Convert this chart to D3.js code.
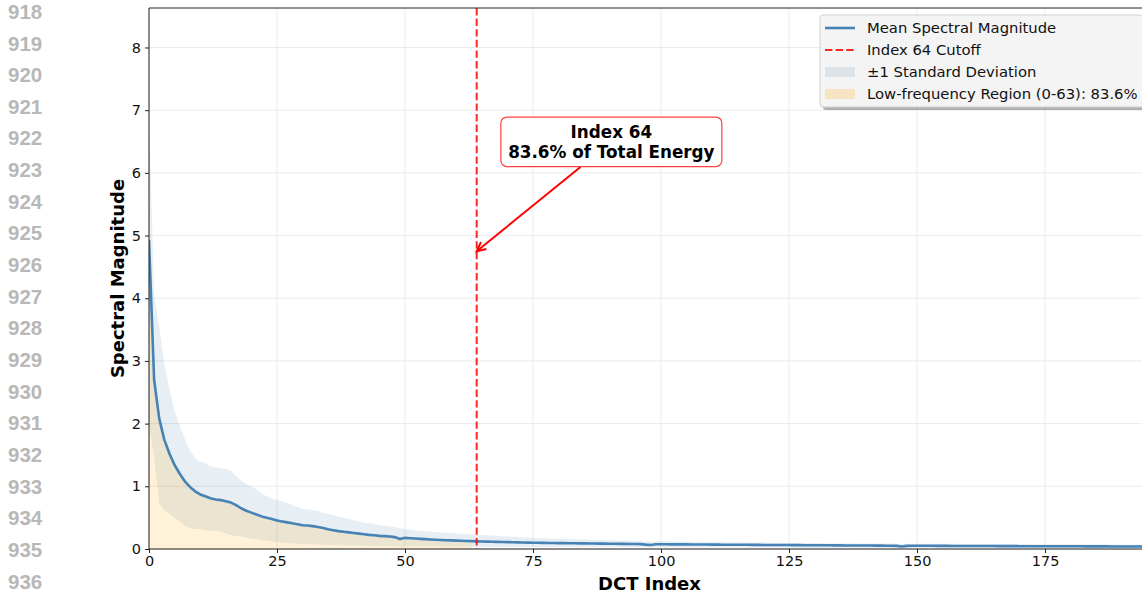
<!DOCTYPE html>
<html><head><meta charset="utf-8">
<script src="https://cdn.jsdelivr.net/npm/d3@7"></script>
<style>
html,body{margin:0;padding:0;background:#fff;}
svg{display:block;font-family:"DejaVu Sans",sans-serif;}
</style></head>
<body>
<svg id="chart" width="1142" height="598"></svg>
<script>
// ---- data ----
const lineNumbers = [918,919,920,921,922,923,924,925,926,927,928,929,930,931,932,933,934,935,936];
const xTicks = [0,25,50,75,100,125,150,175];
const yTicks = [0,1,2,3,4,5,6,7,8];
const meanMag = [
4.93,2.70,2.08,1.74,1.52,1.34,1.20,1.08,0.99,0.92,
0.87,0.84,0.81,0.79,0.78,0.76,0.74,0.70,0.65,0.61,
0.58,0.55,0.52,0.50,0.48,0.455,0.44,0.425,0.41,0.395,
0.38,0.375,0.365,0.35,0.335,0.315,0.30,0.285,0.275,0.265,
0.255,0.245,0.235,0.225,0.22,0.21,0.205,0.20,0.19,0.16,
0.178,0.172,0.167,0.162,0.157,0.152,0.148,0.144,0.140,0.137,
0.134,0.131,0.128,0.125,0.122,0.120,0.118,0.116,0.114,0.112,
0.110,0.108,0.106,0.104,0.102,0.100,0.099,0.098,0.096,0.095,
0.094,0.093,0.092,0.091,0.090,0.089,0.088,0.087,0.086,0.085,
0.084,0.083,0.082,0.081,0.080,0.079,0.078,0.070,0.065,0.076,
0.075,0.075,0.074,0.074,0.073,0.073,0.072,0.072,0.071,0.071,
0.070,0.070,0.069,0.069,0.068,0.068,0.067,0.067,0.066,0.066,
0.065,0.065,0.064,0.064,0.063,0.063,0.062,0.062,0.061,0.061,
0.060,0.060,0.059,0.059,0.058,0.058,0.057,0.057,0.056,0.056,
0.055,0.055,0.054,0.054,0.053,0.053,0.050,0.040,0.050,0.052,
0.052,0.051,0.051,0.051,0.050,0.050,0.050,0.049,0.049,0.049,
0.048,0.048,0.048,0.047,0.047,0.047,0.046,0.046,0.046,0.046,
0.045,0.045,0.045,0.045,0.044,0.044,0.044,0.044,0.043,0.043,
0.043,0.043,0.043,0.042,0.042,0.042,0.042,0.042,0.041,0.041,
0.041,0.041,0.041,0.040,0.040,0.040];
const stdUpper = [
7.00,4.05,3.55,2.95,2.55,2.20,1.97,1.76,1.57,1.45,
1.39,1.37,1.32,1.30,1.29,1.28,1.25,1.17,1.09,1.04,
1.00,0.95,0.88,0.84,0.81,0.78,0.76,0.73,0.70,0.67,
0.64,0.63,0.62,0.61,0.58,0.56,0.54,0.52,0.50,0.48,
0.46,0.44,0.42,0.41,0.40,0.38,0.37,0.36,0.35,0.33,
0.32,0.31,0.30,0.29,0.285,0.28,0.272,0.265,0.26,0.255,
0.25,0.245,0.24,0.235,0.23,0.225,0.22,0.215,0.21,0.205,
0.20,0.196,0.192,0.188,0.184,0.18,0.177,0.174,0.171,0.168,
0.165,0.162,0.159,0.156,0.153,0.15,0.148,0.146,0.144,0.142,
0.14,0.138,0.136,0.134,0.132,0.13,0.128,0.12,0.115,0.124,
0.122,0.121,0.120,0.119,0.118,0.117,0.116,0.115,0.114,0.113,
0.112,0.111,0.110,0.109,0.108,0.107,0.106,0.105,0.104,0.103,
0.102,0.101,0.100,0.099,0.099,0.098,0.097,0.097,0.096,0.095,
0.095,0.094,0.093,0.093,0.092,0.091,0.091,0.090,0.090,0.089,
0.089,0.088,0.088,0.087,0.087,0.086,0.082,0.070,0.082,0.085,
0.085,0.084,0.084,0.083,0.083,0.083,0.082,0.082,0.082,0.081,
0.081,0.081,0.080,0.080,0.080,0.079,0.079,0.079,0.079,0.078,
0.078,0.078,0.078,0.077,0.077,0.077,0.077,0.076,0.076,0.076,
0.076,0.075,0.075,0.075,0.075,0.074,0.074,0.074,0.074,0.073,
0.073,0.073,0.073,0.072,0.072,0.072];
const stdLower = [
2.00,1.45,0.72,0.62,0.56,0.50,0.44,0.37,0.33,0.32,
0.32,0.30,0.29,0.29,0.28,0.25,0.22,0.21,0.20,0.18,
0.16,0.15,0.14,0.13,0.12,0.11,0.10,0.095,0.09,0.085,
0.08,0.077,0.074,0.071,0.068,0.065,0.063,0.061,0.059,0.057,
0.055,0.053,0.051,0.049,0.047,0.046,0.045,0.044,0.043,0.035,
0.041,0.040,0.040,0.039,0.039,0.038,0.038,0.037,0.037,0.036,
0.036,0.035,0.035,0.034,0.034,0.034,0.033,0.033,0.033,0.032,
0.032,0.032,0.031,0.031,0.031,0.030,0.030,0.030,0.030,0.029,
0.029,0.029,0.029,0.028,0.028,0.028,0.028,0.028,0.027,0.027,
0.027,0.027,0.027,0.026,0.026,0.026,0.026,0.022,0.020,0.026,
0.026,0.026,0.026,0.025,0.025,0.025,0.025,0.025,0.024,0.024,
0.024,0.024,0.024,0.024,0.023,0.023,0.023,0.023,0.023,0.023,
0.022,0.022,0.022,0.022,0.022,0.022,0.022,0.021,0.021,0.021,
0.021,0.021,0.021,0.021,0.021,0.020,0.020,0.020,0.020,0.020,
0.020,0.020,0.020,0.020,0.020,0.020,0.018,0.014,0.018,0.019,
0.019,0.019,0.019,0.019,0.019,0.019,0.019,0.019,0.019,0.019,
0.019,0.019,0.019,0.019,0.018,0.018,0.018,0.018,0.018,0.018,
0.018,0.018,0.018,0.018,0.018,0.018,0.018,0.018,0.018,0.018,
0.018,0.018,0.018,0.018,0.018,0.018,0.018,0.018,0.018,0.018,
0.018,0.018,0.018,0.018,0.018,0.018];
const cutoffIndex = 64;
const lowRegionEnd = 63;
const annotationLines = ["Index 64","83.6% of Total Energy"];
const annotationTarget = [64, 4.75];
const annotationText = [90.3, 6.5];
const legendLabels = ["Mean Spectral Magnitude","Index 64 Cutoff","\u00b11 Standard Deviation","Low-frequency Region (0-63): 83.6%"];
const xLabel = "DCT Index";
const yLabel = "Spectral Magnitude";

// ---- drawing ----
const svg = d3.select("#chart");
const L = 149, R = 1150, T = 8, B = 549;
const x = d3.scaleLinear().domain([0, 195.5]).range([L, R]);
const y = d3.scaleLinear().domain([0, 8.63]).range([B, T]);

// line numbers at the left margin
svg.append("g").selectAll("text").data(lineNumbers).join("text")
  .attr("x", 8).attr("y", (d,i) => 11.5 + i*31.65).attr("dy", "0.36em")
  .attr("font-family", "'Liberation Sans', Arial, sans-serif")
  .attr("font-weight", "bold").attr("font-size", 20.5).attr("fill", "#b8b8b8")
  .text(d => d);

svg.append("defs").append("clipPath").attr("id","clip")
  .append("rect").attr("x", L).attr("y", T).attr("width", R-L).attr("height", B-T);

// grid
const grid = svg.append("g");
grid.selectAll(".gx").data(xTicks).join("line")
  .attr("x1", d=>x(d)).attr("x2", d=>x(d)).attr("y1", T).attr("y2", B)
  .attr("stroke", "#e6e6e6").attr("stroke-width", 0.8);
grid.selectAll(".gy").data(yTicks).join("line")
  .attr("x1", L).attr("x2", R).attr("y1", d=>y(d)).attr("y2", d=>y(d))
  .attr("stroke", "#e6e6e6").attr("stroke-width", 0.8);

const plot = svg.append("g").attr("clip-path", "url(#clip)");
const idx = d3.range(meanMag.length);

// std band
plot.append("path").datum(idx)
  .attr("d", d3.area().x(i=>x(i)).y0(i=>y(stdLower[i])).y1(i=>y(stdUpper[i])))
  .attr("fill", "steelblue").attr("fill-opacity", 0.13);

// low-frequency region
plot.append("path").datum(idx.filter(i => i <= lowRegionEnd))
  .attr("d", d3.area().x(i=>x(i)).y0(y(0)).y1(i=>y(meanMag[i])))
  .attr("fill", "orange").attr("fill-opacity", 0.15);

// mean line
plot.append("path").datum(idx)
  .attr("d", d3.line().x(i=>x(i)).y(i=>y(meanMag[i])))
  .attr("fill", "none").attr("stroke", "#4682b4").attr("stroke-width", 2.6)
  .attr("stroke-linejoin", "round");

// cutoff line
plot.append("line")
  .attr("x1", x(cutoffIndex)).attr("x2", x(cutoffIndex)).attr("y1", T).attr("y2", B)
  .attr("stroke", "red").attr("stroke-opacity", 0.85).attr("stroke-width", 2)
  .attr("stroke-dasharray", "7.4 3.2");

// spines
svg.append("line").attr("x1", L).attr("x2", L).attr("y1", T).attr("y2", B).attr("stroke", "#222").attr("stroke-width", 1);
svg.append("line").attr("x1", L).attr("x2", R).attr("y1", T).attr("y2", T).attr("stroke", "#222").attr("stroke-width", 1);
svg.append("line").attr("x1", L).attr("x2", R).attr("y1", B).attr("y2", B).attr("stroke", "#222").attr("stroke-width", 1);

// axes
const xAxis = svg.append("g").attr("transform", `translate(0,${B})`)
  .call(d3.axisBottom(x).tickValues(xTicks).tickSize(4).tickPadding(3));
const yAxis = svg.append("g").attr("transform", `translate(${L},0)`)
  .call(d3.axisLeft(y).tickValues(yTicks).tickSize(4).tickPadding(4));
[xAxis, yAxis].forEach(a => {
  a.select(".domain").remove();
  a.selectAll("line").attr("stroke", "#222");
  a.selectAll("text").attr("font-family", "'DejaVu Sans', sans-serif").attr("font-size", 14.5).attr("fill", "#111");
});

// axis labels
svg.append("text").attr("x", 649.5).attr("y", 589.5).attr("text-anchor", "middle")
  .attr("font-weight", "bold").attr("font-size", 18).text(xLabel);
svg.append("text").attr("transform", `translate(124,278.5) rotate(-90)`).attr("text-anchor", "middle")
  .attr("font-weight", "bold").attr("font-size", 18).text(yLabel);

// annotation arrow
const ax0 = x(annotationText[0]), ay0 = y(annotationText[1]);
const tx = x(annotationTarget[0]), ty = y(annotationTarget[1]);
const sx = 580.5, sy = 167;
svg.append("line").attr("x1", sx).attr("y1", sy).attr("x2", tx).attr("y2", ty)
  .attr("stroke", "red").attr("stroke-width", 2);
{
  const ang = Math.atan2(ty - sy, tx - sx), len = 10, spread = 0.45;
  const p1 = [tx - len*Math.cos(ang - spread), ty - len*Math.sin(ang - spread)];
  const p2 = [tx - len*Math.cos(ang + spread), ty - len*Math.sin(ang + spread)];
  svg.append("path").attr("d", `M${p1}L${tx},${ty}L${p2}`).attr("fill","none")
    .attr("stroke","red").attr("stroke-width",2);
}
// annotation box
const box = svg.append("g");
box.append("rect").attr("x", ax0 - 110.5).attr("y", ay0 - 24.5).attr("width", 221).attr("height", 49.5)
  .attr("rx", 6).attr("fill", "#fff").attr("stroke", "red").attr("stroke-opacity", 0.75).attr("stroke-width", 1.2);
box.selectAll("text").data(annotationLines).join("text")
  .attr("x", ax0).attr("y", (d,i) => ay0 - 10 + i*20.5).attr("dy", "0.36em").attr("text-anchor", "middle")
  .attr("font-weight", "bold").attr("font-size", 16.8).attr("fill", "#000").text(d => d);

// legend
const lg = svg.append("g").attr("transform", "translate(820,15)");
lg.append("rect").attr("x", 3).attr("y", 3).attr("width", 330).attr("height", 92).attr("rx", 3)
  .attr("fill", "#000").attr("fill-opacity", 0.3);
lg.append("rect").attr("x", 0).attr("y", 0).attr("width", 330).attr("height", 92).attr("rx", 3)
  .attr("fill", "#f4f4f4").attr("stroke", "#d0d0d0").attr("stroke-width", 1);
const rowY = [13, 35, 57, 79];
lg.append("line").attr("x1", 5).attr("x2", 35).attr("y1", rowY[0]).attr("y2", rowY[0])
  .attr("stroke", "#4682b4").attr("stroke-width", 2.6);
lg.append("line").attr("x1", 5).attr("x2", 35).attr("y1", rowY[1]).attr("y2", rowY[1])
  .attr("stroke", "red").attr("stroke-opacity", 0.85).attr("stroke-width", 2).attr("stroke-dasharray", "7.4 3.2");
lg.append("rect").attr("x", 5).attr("y", rowY[2]-5).attr("width", 30).attr("height", 10)
  .attr("fill", "steelblue").attr("fill-opacity", 0.13);
lg.append("rect").attr("x", 5).attr("y", rowY[3]-5).attr("width", 30).attr("height", 10)
  .attr("fill", "orange").attr("fill-opacity", 0.2);
lg.selectAll("text.lab").data(legendLabels).join("text").attr("class","lab")
  .attr("x", 47).attr("y", (d,i) => rowY[i]).attr("dy", "0.36em")
  .attr("font-size", 14.8).attr("fill", "#111").text(d => d);
</script>
</body></html>
